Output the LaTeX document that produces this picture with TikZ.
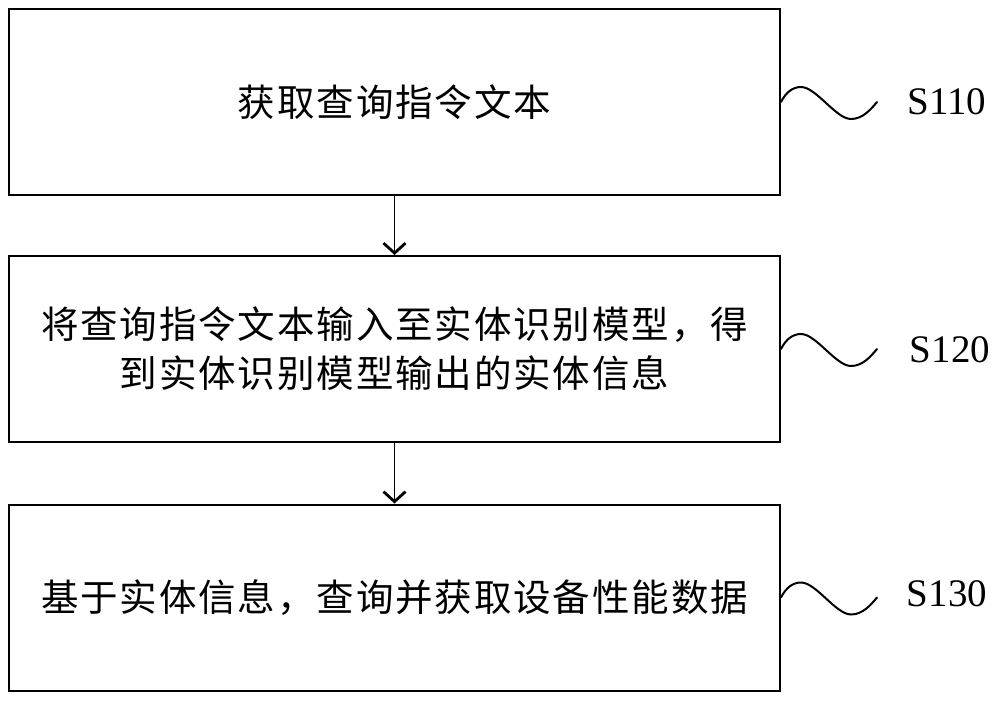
\documentclass[tikz,border=0pt]{standalone}
\usepackage{fontspec}
\setmainfont{Liberation Serif}
\newfontfamily\cjk[LetterSpace=5]{Noto Sans CJK SC}
\usetikzlibrary{arrows.meta}
\begin{document}
\begin{tikzpicture}[x=1pt,y=-1pt,
  stepbox/.style={draw=black,line width=2pt,minimum width=771pt,minimum height=186pt,inner sep=0pt,align=center,font=\cjk\fontsize{37.5}{49}\selectfont},
  flow/.style={line width=1.8pt,-{Straight Barb[length=10pt,width=22pt,line width=2.8pt]}},
  wave/.style={line width=2pt,line cap=round},
  steplabel/.style={inner sep=0pt,font=\fontsize{39}{44}\selectfont}]
\useasboundingbox (0,0) rectangle (1000,701);
\node[stepbox] (b1) at (394.5,102) {获取查询指令文本};
\node[stepbox] (b2) at (394.5,349) {将查询指令文本输入至实体识别模型，得\\到实体识别模型输出的实体信息};
\node[stepbox] (b3) at (394.5,597.5) {基于实体信息，查询并获取设备性能数据};
\draw[flow] (b1.south) -- (b2.north);
\draw[flow] (b2.south) -- (b3.north);
\node[steplabel] (l1) at (947,102) {S110};
\node[steplabel] (l2) at (950,350) {S120};
\node[steplabel] (l3) at (947,594) {S130};
\foreach \b in {b1,b2,b3}{
  \draw[wave] (\b.east) .. controls +(5,-10) and +(-8,0) .. ++(20,-15)
     .. controls +(15,0) and +(-15,0) .. ++(50,32)
     .. controls +(12,0) and +(-6,7) .. ++(26,-17);
}
\end{tikzpicture}
\end{document}
